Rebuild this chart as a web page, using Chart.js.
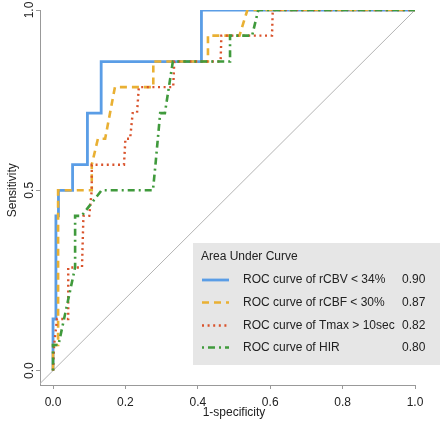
<!DOCTYPE html>
<html>
<head>
<meta charset="utf-8">
<script src="https://cdn.jsdelivr.net/npm/chart.js@4.4.1/dist/chart.umd.min.js"></script>
<style>
html,body{margin:0;padding:0;background:#ffffff;}
#wrap{position:relative;width:440px;height:430px;}
canvas{display:block;}
</style>
</head>
<body>
<div id="wrap"><canvas id="c" width="440" height="430"></canvas></div>
<script>
// ---- data ----
const seriesLabels = ['ROC curve of rCBV < 34%', 'ROC curve of rCBF < 30%', 'ROC curve of Tmax > 10sec', 'ROC curve of HIR'];
const aucValues = ['0.90', '0.87', '0.82', '0.80'];
const legendTitle = 'Area Under Curve';
const xTickValues = [0, 0.2, 0.4, 0.6, 0.8, 1.0];
const yTickValues = [0, 0.5, 1.0];
const xAxisTitle = '1-specificity';
const yAxisTitle = 'Sensitivity';

const rcbvX = [0, 0, 0.008, 0.008, 0.015, 0.015, 0.054, 0.054, 0.095, 0.095, 0.133, 0.133, 0.41, 0.41, 1];
const rcbvY = [0, 0.143, 0.143, 0.429, 0.429, 0.5, 0.5, 0.571, 0.571, 0.714, 0.714, 0.857, 0.857, 1, 1];

const rcbfX = [0, 0, 0.014, 0.014, 0.107, 0.107, 0.124, 0.144, 0.171, 0.277, 0.277, 0.428, 0.428, 0.515, 0.537, 1];
const rcbfY = [0, 0.071, 0.071, 0.5, 0.5, 0.571, 0.643, 0.643, 0.786, 0.786, 0.857, 0.857, 0.929, 0.929, 1, 1];

const tmaxX = [0, 0.003, 0.011, 0.042, 0.042, 0.08, 0.084, 0.1, 0.107, 0.107, 0.196, 0.2, 0.213, 0.22, 0.232, 0.237, 0.332, 0.335, 0.463, 0.465, 0.605, 0.607, 1];
const tmaxY = [0, 0.071, 0.143, 0.143, 0.286, 0.286, 0.429, 0.429, 0.5, 0.571, 0.571, 0.643, 0.643, 0.714, 0.714, 0.786, 0.786, 0.857, 0.857, 0.929, 0.929, 1, 1];

const hirX = [0, 0, 0.015, 0.061, 0.061, 0.079, 0.134, 0.276, 0.283, 0.296, 0.309, 0.331, 0.489, 0.489, 0.55, 0.567, 1];
const hirY = [0, 0.071, 0.071, 0.286, 0.429, 0.429, 0.5, 0.5, 0.571, 0.714, 0.714, 0.857, 0.857, 0.929, 0.929, 1, 1];

const refLineX = [-0.04, 1];
const refLineY = [-0.04, 1];

// ---- styles ----
const FONT = '"Liberation Sans", Arial, Helvetica, sans-serif';
const seriesStyles = [
  { color: '#5a9de6', dash: [], width: 2.8 },
  { color: '#e9b033', dash: [7, 5], width: 2.6 },
  { color: '#d9532c', dash: [2, 3.6], width: 2.4 },
  { color: '#409a3c', dash: [2, 4, 7, 4], width: 2.6 }
];

const zip = (xs, ys) => xs.map((x, i) => ({ x: x, y: ys[i] }));
const seriesData = [zip(rcbvX, rcbvY), zip(rcbfX, rcbfY), zip(tmaxX, tmaxY), zip(hirX, hirY)];

const datasets = seriesData.map((d, i) => ({
  label: seriesLabels[i],
  data: d,
  showLine: true,
  borderColor: seriesStyles[i].color,
  backgroundColor: seriesStyles[i].color,
  borderWidth: seriesStyles[i].width,
  borderDash: seriesStyles[i].dash,
  borderCapStyle: 'butt',
  borderJoinStyle: 'miter',
  pointRadius: 0,
  pointHoverRadius: 0,
  tension: 0,
  fill: false,
  order: 4 - i
}));
datasets.push({
  label: 'reference',
  data: zip(refLineX, refLineY),
  showLine: true,
  borderColor: '#b4b4b4',
  borderWidth: 1,
  pointRadius: 0,
  fill: false,
  order: 10
});

const decorPlugin = {
  id: 'decor',
  afterDatasetsDraw(chart) {
    const ctx = chart.ctx;
    const xs = chart.scales.x, ys = chart.scales.y;
    ctx.save();
    // axis titles
    ctx.fillStyle = '#222';
    ctx.font = '12px ' + FONT;
    ctx.textAlign = 'center';
    ctx.textBaseline = 'middle';
    ctx.fillText(xAxisTitle, xs.getPixelForValue(0.5), 413);
    ctx.save();
    ctx.translate(13, ys.getPixelForValue(0.5));
    ctx.rotate(-Math.PI / 2);
    ctx.fillText(yAxisTitle, 0, 0);
    ctx.restore();

    // legend box
    const bx = 193, by = 243, bw = 250, bh = 122;
    ctx.fillStyle = '#e6e6e6';
    ctx.fillRect(bx, by, bw, bh);
    ctx.fillStyle = '#222';
    ctx.textAlign = 'left';
    ctx.fillText(legendTitle, 201, 256.5);
    const rowY = [280, 302.5, 325.5, 347.5];
    seriesLabels.forEach((lab, i) => {
      const st = seriesStyles[i];
      ctx.save();
      ctx.strokeStyle = st.color;
      ctx.lineWidth = st.width;
      ctx.lineCap = 'butt';
      ctx.setLineDash(st.dash);
      ctx.beginPath();
      ctx.moveTo(202, rowY[i]);
      ctx.lineTo(229, rowY[i]);
      ctx.stroke();
      ctx.restore();
      ctx.fillStyle = '#222';
      ctx.fillText(lab, 243, rowY[i]);
      ctx.fillText(aucValues[i], 402, rowY[i]);
    });
    ctx.restore();
  }
};

new Chart(document.getElementById('c'), {
  type: 'scatter',
  data: { datasets: datasets },
  options: {
    responsive: false,
    animation: false,
    devicePixelRatio: 1,
    layout: { padding: { top: 10, right: 25, left: 0, bottom: 0 } },
    plugins: { legend: { display: false }, tooltip: { enabled: false }, title: { display: false } },
    scales: {
      x: {
        type: 'linear',
        min: -0.036,
        max: 1,
        afterBuildTicks: s => { s.ticks = xTickValues.map(v => ({ value: v })); },
        afterFit: s => { s.height = 45; },
        ticks: {
          callback: v => Number(v).toFixed(1),
          font: { size: 12, family: FONT },
          color: '#222',
          padding: 6,
          maxRotation: 0,
          autoSkip: false
        },
        grid: { drawOnChartArea: false, drawTicks: true, tickLength: 4, color: '#999', lineWidth: 1 },
        border: { display: true, color: '#999', width: 1 }
      },
      y: {
        type: 'linear',
        min: -0.04,
        max: 1,
        afterBuildTicks: s => { s.ticks = yTickValues.map(v => ({ value: v })); },
        afterFit: s => { s.width = 40; },
        ticks: {
          callback: v => Number(v).toFixed(1),
          font: { size: 12, family: FONT },
          color: '#222',
          padding: -2,
          minRotation: 90,
          maxRotation: 90,
          crossAlign: 'center',
          autoSkip: false
        },
        grid: { drawOnChartArea: false, drawTicks: true, tickLength: 4, color: '#999', lineWidth: 1 },
        border: { display: true, color: '#999', width: 1 }
      }
    }
  },
  plugins: [decorPlugin]
});
</script>
</body>
</html>
